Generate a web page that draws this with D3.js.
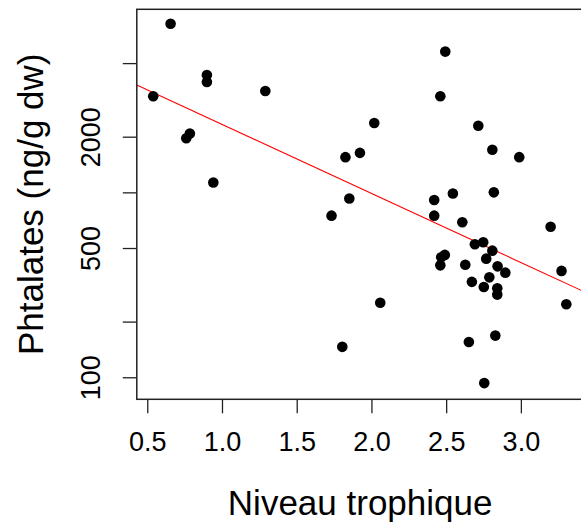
<!DOCTYPE html>
<html>
<head>
<meta charset="utf-8">
<script src="https://cdn.jsdelivr.net/npm/d3@7"></script>
<style>
  body { margin: 0; background: #fff; }
  svg { display: block; font-family: "Liberation Sans", Arial, sans-serif; }
</style>
</head>
<body>
<div id="chart"></div>
<script>
// trophic level (x) and phthalate concentration in ng/g dw (y, log scale)
const trophicLevel = [
  0.656, 0.899, 0.899, 0.540, 1.290, 0.785, 0.761, 0.942, 1.826, 1.923,
  2.494, 2.461, 2.019, 2.715, 2.809, 2.989, 2.545, 2.819, 1.852, 2.420,
  1.733, 2.420, 2.608, 3.199, 2.692, 2.748, 2.809, 2.491, 2.467, 2.768,
  2.461, 2.628, 2.844, 2.896, 3.272, 2.789, 2.672, 2.752, 2.842, 2.842,
  3.304, 2.059, 2.829, 2.652, 1.805, 2.755
];
const phthalates = [
  8170, 4310, 3950, 3310, 3535, 2080, 1960, 1130, 1550, 1635,
  5770, 3310, 2370, 2290, 1700, 1550, 986, 1000, 927, 910,
  748, 748, 689, 652, 524, 537, 484, 459, 446, 438,
  403, 406, 398, 368, 376, 347, 328, 308, 303, 280,
  248, 253, 168, 155, 146, 93
];
// regression line: log10(y) = intercept + slope * x
const fitIntercept = 3.741;
const fitSlope = -0.3734;

const xTicks = [0.5, 1.0, 1.5, 2.0, 2.5, 3.0];
const yTicks = [100, 200, 500, 1000, 2000, 5000];
const yTickLabels = ['100', '', '500', '', '2000', ''];

const width = 581;
const height = 523;
const plot = { left: 136.8, right: 583.5, top: 9.3, bottom: 399.3 };
const xLimits = [0.43, 3.419];
const yLimits = [76.0, 9772];

const svg = d3.select('#chart').append('svg')
    .attr('width', width)
    .attr('height', height);

const xScale = d3.scaleLinear(xLimits, [plot.left, plot.right]);
const yScale = d3.scaleLog(yLimits, [plot.bottom, plot.top]);

svg.append('clipPath')
    .attr('id', 'plot-clip')
  .append('rect')
    .attr('x', plot.left)
    .attr('y', plot.top)
    .attr('width', plot.right - plot.left)
    .attr('height', plot.bottom - plot.top);

// X axis
const xAxis = d3.axisBottom(xScale)
    .tickValues(xTicks)
    .tickSize(14)
    .tickFormat(d3.format('.1f'));

const gx = svg.append('g')
    .attr('transform', `translate(0, ${plot.bottom})`)
    .call(xAxis);
gx.select('.domain').remove();
gx.selectAll('line').attr('stroke', '#222').attr('stroke-width', 1.3);
gx.selectAll('text')
    .attr('y', 52)
    .attr('dy', 0)
    .attr('fill', '#000')
    .style('font-size', '27px');

// Y axis
const yAxis = d3.axisLeft(yScale)
    .tickValues(yTicks)
    .tickSize(14)
    .tickFormat((d, i) => yTickLabels[i]);

const gy = svg.append('g')
    .attr('transform', `translate(${plot.left}, 0)`)
    .call(yAxis);
gy.select('.domain').remove();
gy.selectAll('line').attr('stroke', '#222').attr('stroke-width', 1.3);
gy.selectAll('text')
    .attr('x', 0)
    .attr('dy', 0)
    .attr('transform', 'translate(-37, 0) rotate(-90)')
    .attr('text-anchor', 'middle')
    .attr('fill', '#000')
    .style('font-size', '27px');

// Regression line
const fitLine = d3.line()
    .x(d => xScale(d))
    .y(d => yScale(Math.pow(10, fitIntercept + fitSlope * d)));

svg.append('path')
    .datum(xLimits)
    .attr('d', fitLine)
    .attr('clip-path', 'url(#plot-clip)')
    .attr('fill', 'none')
    .attr('stroke', '#ff0000')
    .attr('stroke-width', 1.1);

// Points
svg.append('g')
    .attr('clip-path', 'url(#plot-clip)')
  .selectAll('circle')
  .data(trophicLevel.map((x, i) => ({ x: x, y: phthalates[i] })))
  .join('circle')
    .attr('cx', d => xScale(d.x))
    .attr('cy', d => yScale(d.y))
    .attr('r', 5.3)
    .attr('fill', '#000');

// Box
svg.append('rect')
    .attr('x', plot.left)
    .attr('y', plot.top)
    .attr('width', plot.right - plot.left)
    .attr('height', plot.bottom - plot.top)
    .attr('fill', 'none')
    .attr('stroke', '#222')
    .attr('stroke-width', 1.5);

// Axis titles
svg.append('text')
    .text('Niveau trophique')
    .attr('x', (plot.left + plot.right) / 2)
    .attr('y', 515)
    .attr('text-anchor', 'middle')
    .style('font-size', '35px');

svg.append('text')
    .text('Phtalates (ng/g dw)')
    .attr('transform', `translate(43, ${(plot.top + plot.bottom) / 2}) rotate(-90)`)
    .attr('text-anchor', 'middle')
    .style('font-size', '35px');
</script>
</body>
</html>
